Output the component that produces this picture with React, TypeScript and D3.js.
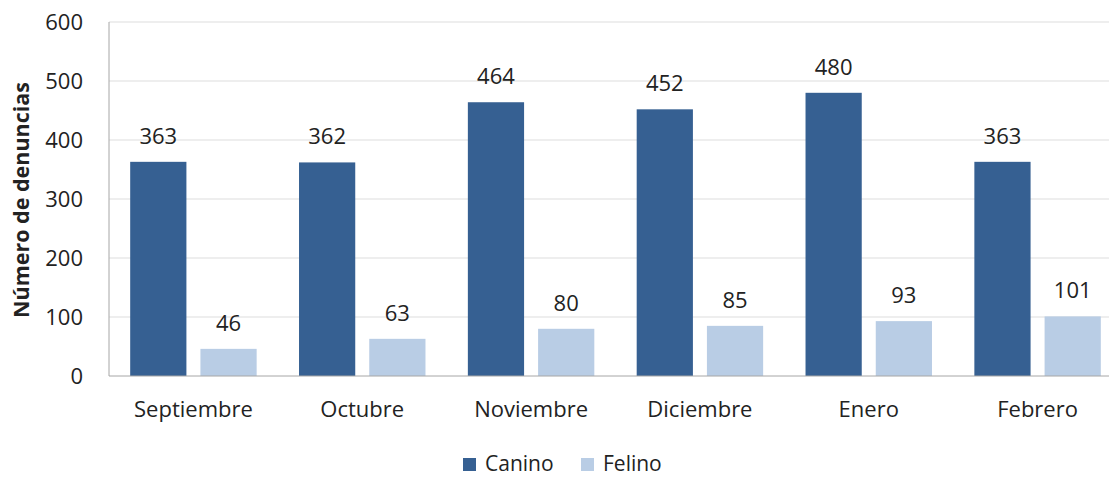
import React from "react";
import * as d3 from "d3";

const categories = ["Septiembre", "Octubre", "Noviembre", "Diciembre", "Enero", "Febrero"];
const canino = [363, 362, 464, 452, 480, 363];
const felino = [46, 63, 80, 85, 93, 101];
const seriesNames = ["Canino", "Felino"];
const yTicks = [0, 100, 200, 300, 400, 500, 600];

const W = 1109;
const H = 477;
const colors = ["#366092", "#B9CDE5"];
const FONT = "'Open Sans', sans-serif";

export default function App() {
  const left = 109;
  const right = 1122;
  const top = 22;
  const bottom = 376;
  const x = d3.scaleBand<string>().domain(categories).range([left, right]).paddingInner(0).paddingOuter(0);
  const y = d3.scaleLinear().domain([0, 600]).range([bottom, top]);
  const bw = x.bandwidth();
  const barW = bw * 0.333;
  const gap = bw * 0.083;
  const pad = (bw - 2 * barW - gap) / 2;
  const series = [canino, felino];

  return (
    <svg width={W} height={H} style={{ position: "absolute", left: 0, top: 0, background: "#fff" }}>
      {yTicks.map((t) => (
        <g key={t}>
          {t > 0 && <line x1={left} x2={W} y1={y(t)} y2={y(t)} stroke="#E8E8E8" strokeWidth={1.3} />}
          <text x={83} y={y(t)} dy="0.36em" textAnchor="end" fontFamily={FONT} fontSize={22} fill="#222">
            {t}
          </text>
        </g>
      ))}
      {categories.map((c, i) =>
        series.map((s, j) => {
          const bx = (x(c) as number) + pad + j * (barW + gap);
          return (
            <g key={c + j}>
              <rect x={bx} y={y(s[i])} width={barW} height={bottom - y(s[i])} fill={colors[j]} />
              <text x={bx + barW / 2} y={y(s[i]) - 18} textAnchor="middle" fontFamily={FONT} fontSize={22} fill="#222">
                {s[i]}
              </text>
            </g>
          );
        })
      )}
      <line x1={left} x2={left} y1={top} y2={bottom} stroke="#A6A6A6" strokeWidth={1} />
      <line x1={left} x2={W} y1={bottom} y2={bottom} stroke="#A6A6A6" strokeWidth={1} />
      {categories.map((c) => (
        <text key={c} x={(x(c) as number) + bw / 2 - 0} y={417} textAnchor="middle" fontFamily={FONT} fontSize={22} fill="#222">
          {c}
        </text>
      ))}
      <text transform={`translate(29,${(top + bottom) / 2 + 1}) rotate(-90)`} textAnchor="middle" fontFamily={FONT} fontSize={21.5} fontWeight="bold" fill="#222">
        Número de denuncias
      </text>
      {seriesNames.map((n, j) => {
        const lx = j === 0 ? 463 : 581;
        return (
          <g key={n}>
            <rect x={lx} y={458} width={13} height={13} fill={colors[j]} />
            <text x={lx + 22} y={471} fontFamily={FONT} fontSize={21} fill="#222">
              {n}
            </text>
          </g>
        );
      })}
    </svg>
  );
}
